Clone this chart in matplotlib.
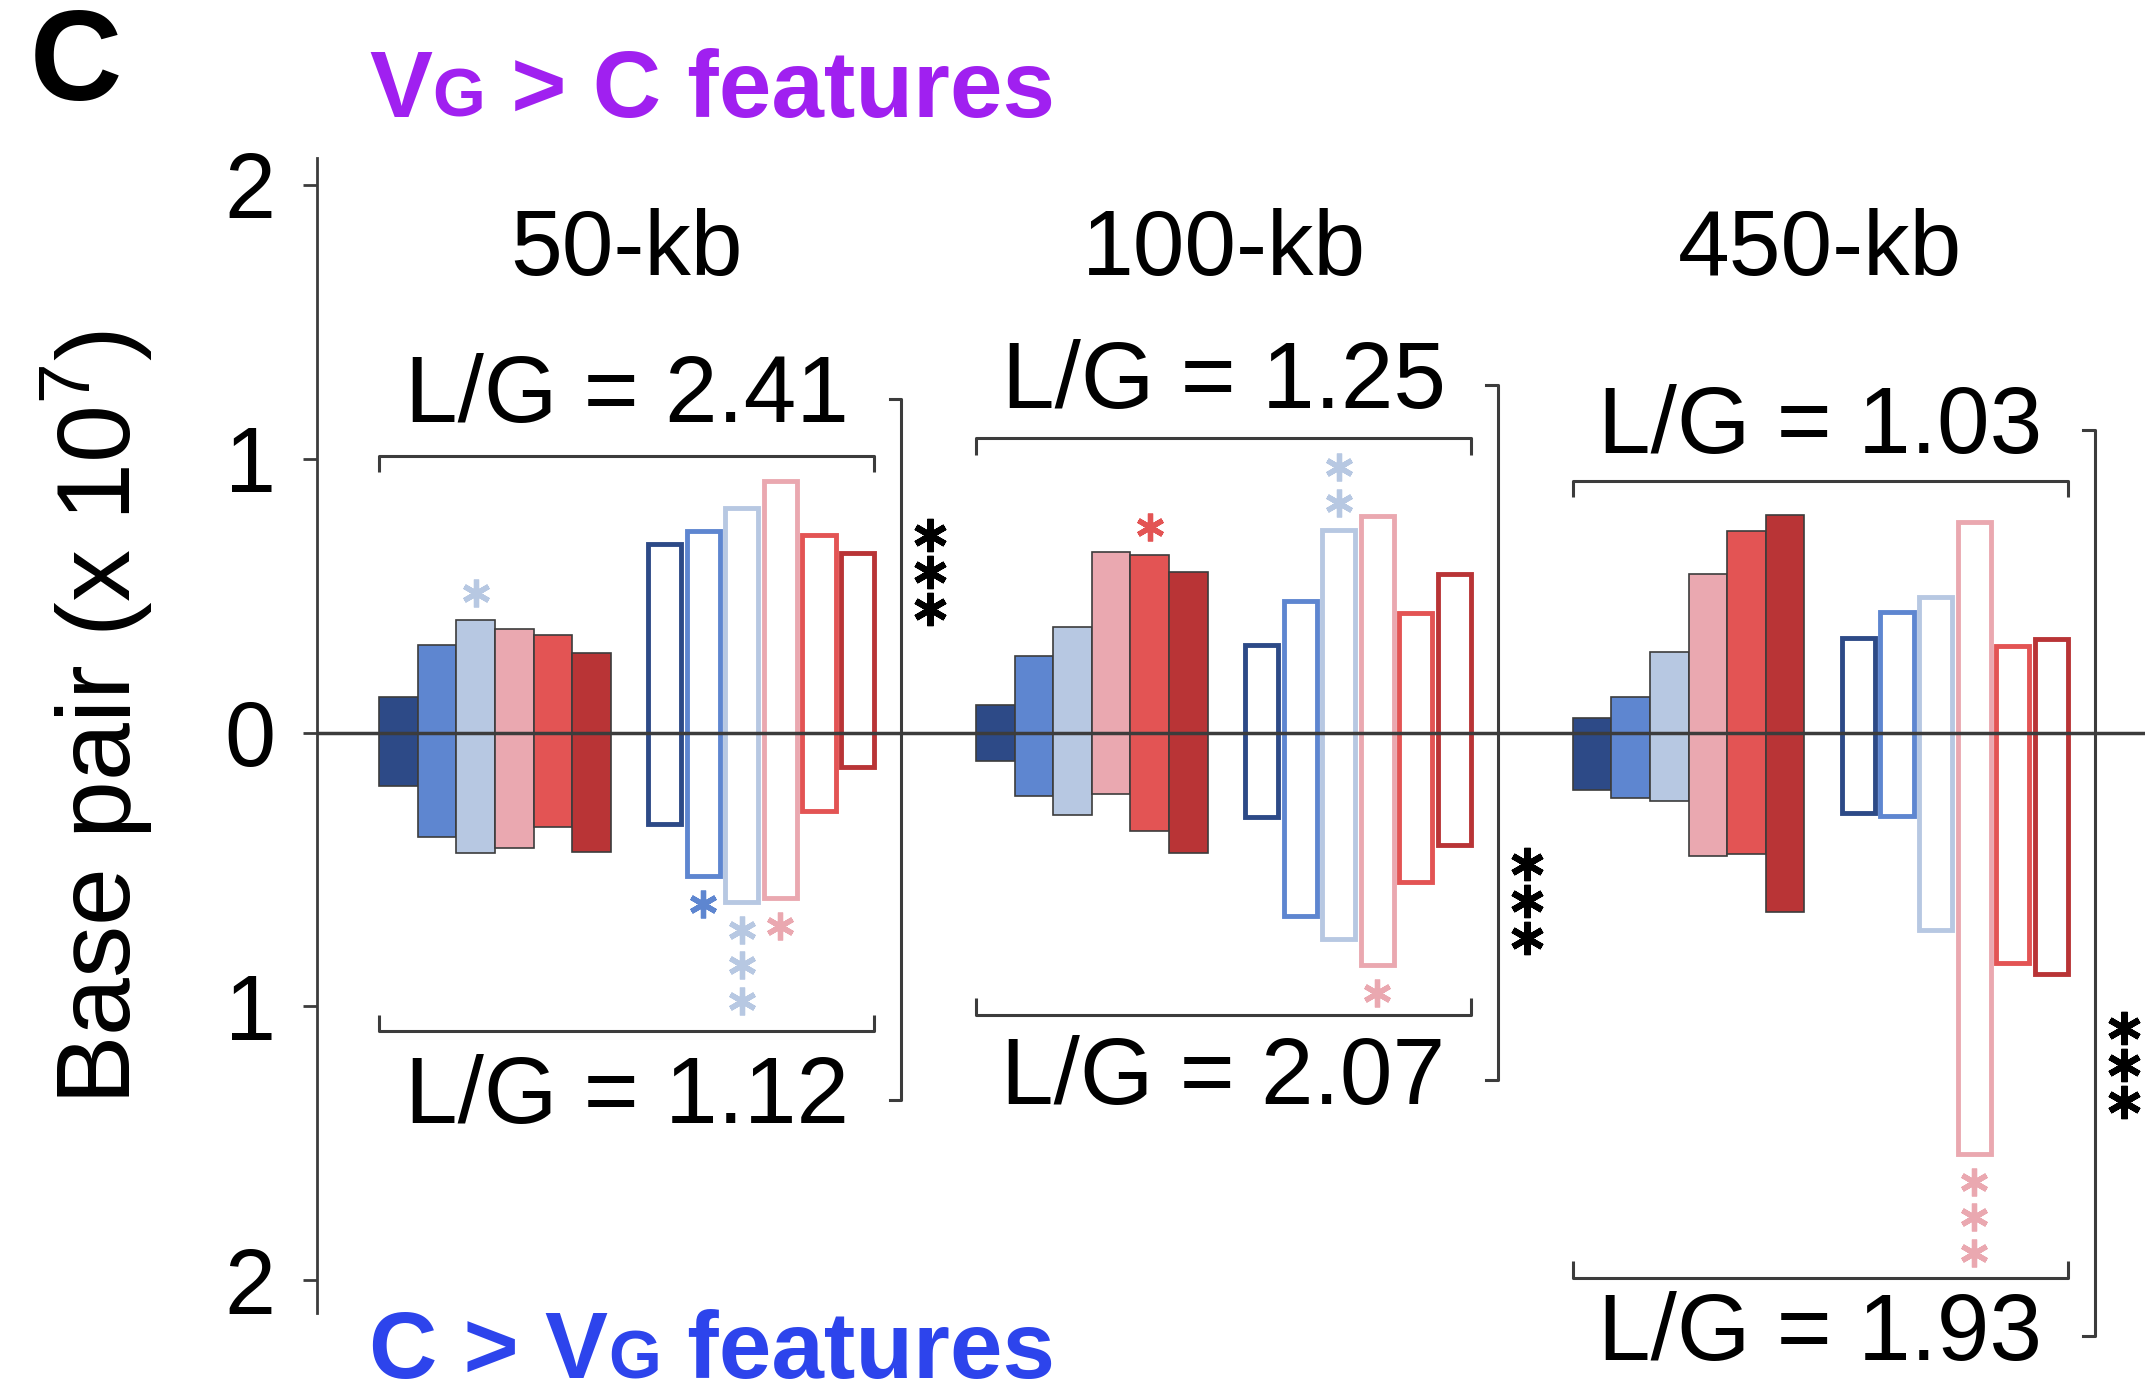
import numpy as np
import matplotlib
matplotlib.use('Agg')
import matplotlib.pyplot as plt
from matplotlib.offsetbox import TextArea, HPacker, AnchoredOffsetbox

plt.rcParams['font.family'] = ['Liberation Sans', 'DejaVu Sans']
plt.rcParams['mathtext.fontset'] = 'custom'
plt.rcParams['mathtext.rm'] = 'Liberation Sans'

## values in units of 10^7 bp; "up" = VG > C, "down" = C > VG
windows = ['50-kb', '100-kb', '450-kb']
bar_colors = ['#2D4A87', '#5E86D0', '#B7C8E2', '#EAA8B0', '#E35454', '#B93436']

filled_up = [[0.13, 0.32, 0.41, 0.38, 0.355, 0.29],
             [0.10, 0.28, 0.385, 0.66, 0.65, 0.585],
             [0.055, 0.13, 0.295, 0.58, 0.735, 0.795]]
filled_down = [[0.195, 0.38, 0.44, 0.42, 0.345, 0.435],
               [0.105, 0.23, 0.30, 0.225, 0.36, 0.44],
               [0.21, 0.24, 0.25, 0.45, 0.445, 0.655]]
hollow_up = [[0.69, 0.735, 0.82, 0.92, 0.72, 0.655],
             [0.32, 0.48, 0.74, 0.79, 0.435, 0.58],
             [0.345, 0.44, 0.495, 0.77, 0.315, 0.34]]
hollow_down = [[0.335, 0.525, 0.62, 0.605, 0.285, 0.125],
               [0.31, 0.67, 0.755, 0.85, 0.545, 0.41],
               [0.295, 0.305, 0.72, 1.54, 0.84, 0.88]]

lg_top = ['2.41', '1.25', '1.03']
lg_bottom = ['1.12', '2.07', '1.93']
bracket_top = [1.01, 1.075, 0.92]
bracket_bottom = [-1.09, -1.03, -1.99]
lg_top_y = [1.26, 1.31, 1.145]
lg_bottom_y = [-1.30, -1.23, -2.165]
sig_y = [0.585, -0.615, -1.215]

# coloured stars: (window, group, bar, side, count)
stars = [(0, 'filled', 2, 'up', 1), (0, 'hollow', 1, 'down', 1),
         (0, 'hollow', 2, 'down', 3), (0, 'hollow', 3, 'down', 1),
         (1, 'filled', 4, 'up', 1), (1, 'hollow', 2, 'up', 2),
         (1, 'hollow', 3, 'down', 1), (2, 'hollow', 3, 'down', 3)]

purple = '#A020F0'
blue = '#2D44EC'
dark = '#3C3C3C'

fig = plt.figure(figsize=(21.45, 13.94), dpi=100)
ax = fig.add_axes([0.148, 0.058, 0.852, 0.829])
ax.set_xlim(0, 47.37)
ax.set_ylim(-2.12, 2.1)

panel_step = 15.47
first = 1.6
hollow_gap = 6.9
cap = 0.125  # half cap height of the big labels, in data units

for w in range(3):
    x0 = first + panel_step * w
    xf = x0 + np.arange(6)
    xh = x0 + hollow_gap + np.arange(6)
    up_f, dn_f = np.array(filled_up[w]), np.array(filled_down[w])
    up_h, dn_h = np.array(hollow_up[w]), np.array(hollow_down[w])

    ax.bar(xf, up_f + dn_f, bottom=-dn_f, width=1, align='edge',
           color=bar_colors, edgecolor=dark, linewidth=1.2, zorder=2)
    ax.bar(xh + 0.07, up_h + dn_h, bottom=-dn_h, width=0.86, align='edge',
           facecolor='none', edgecolor=bar_colors, linewidth=3.5, zorder=2)

    xa, xb = x0, xh[-1] + 0.93
    xc = (xa + xb) / 2
    ax.text(xc, 1.67, windows[w], ha='center', va='baseline', fontsize=67)

    # brackets
    yt, yb = bracket_top[w], bracket_bottom[w]
    ax.plot([xa, xa, xb, xb], [yt - 0.06, yt, yt, yt - 0.06], color=dark, lw=2.2,
            clip_on=False, solid_capstyle='butt')
    ax.plot([xa, xa, xb, xb], [yb + 0.06, yb, yb, yb + 0.06], color=dark, lw=2.2,
            clip_on=False, solid_capstyle='butt')
    ax.text(xc, lg_top_y[w] - cap, 'L/G = ' + lg_top[w], ha='center', va='baseline',
            fontsize=68)
    ax.text(xc, lg_bottom_y[w] - cap, 'L/G = ' + lg_bottom[w], ha='center', va='baseline',
            fontsize=68, clip_on=False)

    # comparison between top and bottom
    xv = xb + 0.7
    ya, yz = lg_top_y[w] - 0.04, lg_bottom_y[w] - 0.04
    ax.plot([xv - 0.3, xv, xv, xv - 0.3], [ya, ya, yz, yz], color=dark, lw=2.2,
            clip_on=False)
    ax.plot([xv + 0.75] * 3, sig_y[w] + np.array([-0.135, 0, 0.135]), ls='none',
            marker=(6, 2, 0), ms=24, mew=4.5, color='black', clip_on=False)

for w, grp, b, side, n in stars:
    x0 = first + panel_step * w + (hollow_gap if grp == 'hollow' else 0)
    xs = x0 + b + 0.5
    if side == 'up':
        top = (filled_up if grp == 'filled' else hollow_up)[w][b]
        ys = top + 0.1 + 0.13 * np.arange(n)
    else:
        bot = (filled_down if grp == 'filled' else hollow_down)[w][b]
        ys = -bot - 0.1 - 0.13 * np.arange(n)
    ax.plot([xs] * n, ys, ls='none', marker=(6, 2, 0), ms=20, mew=3.8,
            color=bar_colors[b], clip_on=False)

ax.axhline(0, color=dark, lw=2.5, zorder=3)

for s in ['top', 'right', 'bottom']:
    ax.spines[s].set_visible(False)
ax.spines['left'].set_color(dark)
ax.spines['left'].set_linewidth(2)
ax.set_xticks([])
ax.set_yticks([2, 1, 0, -1, -2])
ax.set_yticklabels(['2', '1', '0', '1', '2'])
ax.tick_params(axis='y', length=10, width=2, color=dark, labelsize=66, pad=20)

fig.text(0.045, 0.485, 'Base pair (x 10$^7$)', rotation=90, ha='center', va='center',
         fontsize=75)
fig.text(0.014, 0.928, 'C', fontsize=92, fontweight='bold', va='baseline')


def header(parts, color, y):
    boxes = [TextArea(t, textprops=dict(fontsize=s, fontweight='bold', color=color))
             for t, s in parts]
    pack = HPacker(children=boxes, align='baseline', pad=0, sep=0)
    anch = AnchoredOffsetbox(loc='lower left', child=pack, frameon=False, pad=0,
                             borderpad=0, bbox_to_anchor=(0.172, y),
                             bbox_transform=fig.transFigure)
    fig.add_artist(anch)


header([('V', 68), ('G', 49), (' > C features', 68)], purple, 0.902)
header([('C > V', 68), ('G', 49), (' features', 68)], blue, -0.003)

fig.savefig('out.png', dpi=100)
